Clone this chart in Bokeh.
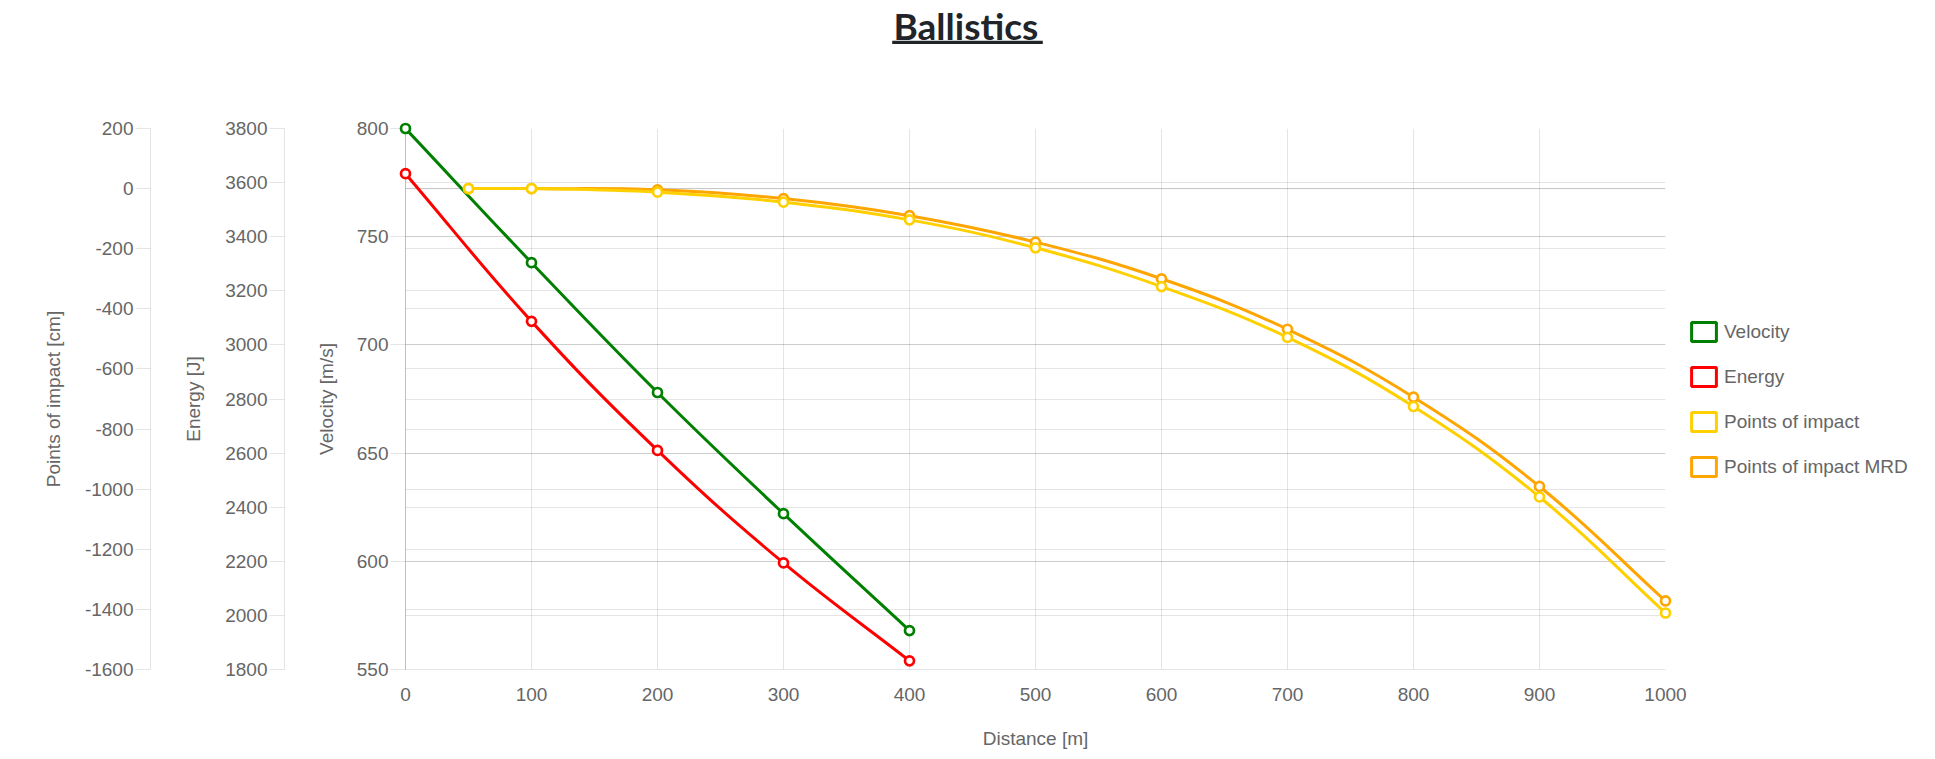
import math
from bokeh.plotting import figure
from bokeh.layouts import column, row
from bokeh.models import (Range1d, LinearAxis, SingleIntervalTicker, FixedTicker, Grid,
                          Legend, LegendItem, ColumnDataSource, Span, BoxAnnotation, Label,
                          PrintfTickFormatter)
from bokeh.embed import file_html
from bokeh.resources import INLINE

# ---------------- data ----------------
distance = [0, 100, 200, 300, 400]
velocity = [800, 738, 678, 622, 568]
energy = [3633, 3087, 2610, 2194, 1832]
impact_distance = [50, 100, 200, 300, 400, 500, 600, 700, 800, 900, 1000]
impact = [0, 0, -12, -45, -104, -197, -326, -495, -725, -1026, -1412]
impact_mrd = [0, 0, -4, -33, -90, -178, -300, -468, -694, -991, -1372]

series_names = ["Velocity", "Energy", "Points of impact", "Points of impact MRD"]
series_colors = ["#008000", "#ff0000", "#ffd000", "#ffa500"]

x_bounds = (0, 1000)
velocity_bounds = (550, 800)
energy_bounds = (1800, 3800)
impact_bounds = (-1600, 200)
x_step, velocity_step, energy_step, impact_step = 100, 50, 200, 200

title_text = "Ballistics"
x_title = "Distance [m]"
velocity_title = "Velocity [m/s]"
energy_title = "Energy [J]"
impact_title = "Points of impact [cm]"

# ---------------- layout ----------------
W = 1930
TH = 110                 # title strip height
PH = 648                 # chart height
BT, BB = 18, 89
FRAME_LEFT, FRAME_RIGHT = 408, 1665
PW = 1688                # chart canvas width (room for the last x label)
LW = W - PW              # legend strip width
FW = FRAME_RIGHT - FRAME_LEFT
FH = PH - BT - BB
FONT = "Liberation Sans"
GREY = "#666666"


def chartjs_curve(xs, ys, xr, yr, tension=0.4):
    kx = FW / (xr[1] - xr[0])
    ky = FH / (yr[1] - yr[0])
    px = [(x - xr[0]) * kx for x in xs]
    py = [(y - yr[0]) * ky for y in ys]
    n = len(px)
    prev_c, next_c = [], []
    for i in range(n):
        a, b = max(i - 1, 0), min(i + 1, n - 1)
        d01 = math.hypot(px[i] - px[a], py[i] - py[a])
        d12 = math.hypot(px[b] - px[i], py[b] - py[i])
        tot = d01 + d12
        s01 = d01 / tot if tot else 0.0
        s12 = d12 / tot if tot else 0.0
        dx, dy = px[b] - px[a], py[b] - py[a]
        prev_c.append((px[i] - tension * s01 * dx, py[i] - tension * s01 * dy))
        next_c.append((px[i] + tension * s12 * dx, py[i] + tension * s12 * dy))

    def back(pt):
        return (min(max(pt[0], 0), FW) / kx + xr[0], min(max(pt[1], 0), FH) / ky + yr[0])

    d = {k: [] for k in ("x0", "y0", "x1", "y1", "cx0", "cy0", "cx1", "cy1")}
    for i in range(n - 1):
        c0, c1 = back(next_c[i]), back(prev_c[i + 1])
        d["x0"].append(xs[i]); d["y0"].append(ys[i])
        d["x1"].append(xs[i + 1]); d["y1"].append(ys[i + 1])
        d["cx0"].append(c0[0]); d["cy0"].append(c0[1])
        d["cx1"].append(c1[0]); d["cy1"].append(c1[1])
    return d


# ---------------- title strip (its frame lines up with the chart frame) ----------------
tf = figure(width=W, height=TH, x_range=Range1d(FRAME_LEFT, FRAME_RIGHT), y_range=Range1d(TH, 0),
            x_axis_type=None, y_axis_type=None, toolbar_location=None, output_backend="svg",
            min_border_left=FRAME_LEFT, min_border_right=W - FRAME_RIGHT,
            min_border_top=0, min_border_bottom=0,
            outline_line_color=None, background_fill_color="white", border_fill_color="white")
tf.add_layout(Label(x=893, y=25, text=title_text, text_font="Lato", text_font_style="bold",
                    text_font_size="37px", text_color="#212529", text_baseline="middle",
                    text_align="left"))
tf.add_layout(BoxAnnotation(left=891.7, right=1042.3, top=40.3, bottom=43.6,
                            fill_color="#212529", fill_alpha=1, line_color=None))

# ---------------- chart ----------------
p = figure(width=PW, height=PH, x_range=Range1d(*x_bounds), y_range=Range1d(*velocity_bounds),
           output_backend="svg", toolbar_location=None,
           min_border_left=0, min_border_right=PW - FRAME_RIGHT, min_border_top=BT,
           min_border_bottom=BB,
           background_fill_color="white", border_fill_color="white", outline_line_color=None)
p.title.text = ""
p.extra_y_ranges = {"energy": Range1d(*energy_bounds), "impact": Range1d(*impact_bounds)}


def style_axis(ax, ticker, label, label_standoff, line_alpha, tick_out=15):
    ax.ticker = ticker
    ax.formatter = PrintfTickFormatter(format="%d")
    ax.axis_label = label
    ax.axis_label_text_font = FONT
    ax.axis_label_text_font_size = "19px"
    ax.axis_label_text_font_style = "normal"
    ax.axis_label_text_color = GREY
    ax.axis_label_standoff = label_standoff
    ax.major_label_text_font = FONT
    ax.major_label_text_font_size = "19px"
    ax.major_label_text_color = GREY
    ax.major_label_standoff = 2
    ax.major_tick_in = 0
    ax.major_tick_out = tick_out
    ax.minor_tick_in = 0
    ax.minor_tick_out = 0
    ax.major_tick_line_color = "black"
    ax.major_tick_line_alpha = 0.1
    ax.axis_line_color = "black"
    ax.axis_line_alpha = line_alpha


def spacer(range_name, standoff):
    return LinearAxis(y_range_name=range_name, ticker=FixedTicker(ticks=[]), axis_label=" ",
                      axis_label_standoff=standoff, axis_label_text_font_size="2px",
                      axis_label_text_alpha=0, axis_line_color=None,
                      major_tick_out=0, major_tick_in=0, minor_tick_out=0, minor_tick_in=0,
                      major_label_standoff=0, major_label_text_font_size="1px")


# x axis
style_axis(p.xaxis[0], SingleIntervalTicker(interval=x_step, num_minor_ticks=0), x_title, 24, 0.1, tick_out=0)
p.xaxis[0].major_label_standoff = 18

# velocity axis (main)
vel_ticker = SingleIntervalTicker(interval=velocity_step, num_minor_ticks=0)
style_axis(p.yaxis[0], vel_ticker, velocity_title, 17, 0.25)

energy_ticker = SingleIntervalTicker(interval=energy_step, num_minor_ticks=0)
impact_ticker = SingleIntervalTicker(interval=impact_step, num_minor_ticks=0)

p.add_layout(spacer("energy", 23), "left")
energy_axis = LinearAxis(y_range_name="energy")
style_axis(energy_axis, energy_ticker, energy_title, 18, 0.1)
p.add_layout(energy_axis, "left")
p.add_layout(spacer("impact", 25), "left")
impact_axis = LinearAxis(y_range_name="impact")
style_axis(impact_axis, impact_ticker, impact_title, 18, 0.1)
p.add_layout(impact_axis, "left")
p.add_layout(spacer("impact", 34), "left")

# grids
p.xgrid.grid_line_color = "black"
p.xgrid.grid_line_alpha = 0.1
p.ygrid.grid_line_color = "black"
p.ygrid.grid_line_alpha = 0.1
p.add_layout(Grid(dimension=1, ticker=energy_ticker, y_range_name="energy",
                  grid_line_color="black", grid_line_alpha=0.1))
p.add_layout(Grid(dimension=1, ticker=impact_ticker, y_range_name="impact",
                  grid_line_color="black", grid_line_alpha=0.1))
p.add_layout(Span(location=0, dimension="width", y_range_name="impact", level="underlay",
                  line_color="black", line_alpha=0.15, line_width=1))

# series (drawn last dataset first, like Chart.js)
series = [
    (distance, velocity, velocity_bounds, "default", series_colors[0]),
    (distance, energy, energy_bounds, "energy", series_colors[1]),
    (impact_distance, impact, impact_bounds, "impact", series_colors[2]),
    (impact_distance, impact_mrd, impact_bounds, "impact", series_colors[3]),
]
for xs, ys, yb, rname, color in reversed(series):
    src = ColumnDataSource(chartjs_curve(xs, ys, x_bounds, yb))
    p.bezier(x0="x0", y0="y0", x1="x1", y1="y1", cx0="cx0", cy0="cy0", cx1="cx1", cy1="cy1",
             source=src, line_color=color, line_width=3, line_cap="round", y_range_name=rname)
    p.scatter(xs, ys, size=9, marker="circle", fill_color="white", line_color=color,
              line_width=2.7, y_range_name=rname, level="overlay")

# ---------------- legend strip ----------------
lf = figure(width=LW, height=PH, x_range=Range1d(0, 1), y_range=Range1d(0, 1),
            x_axis_type=None, y_axis_type=None, toolbar_location=None, output_backend="svg",
            min_border_left=0, min_border_right=0, min_border_top=BT, min_border_bottom=BB,
            outline_line_color=None, background_fill_color="white", border_fill_color="white")
nan = float("nan")
items = []
for name, color in zip(series_names, series_colors):
    r = lf.quad(left=[nan], right=[nan], top=[nan], bottom=[nan], fill_color="white",
                fill_alpha=0, line_color=color, line_width=3)
    items.append(LegendItem(label=name, renderers=[r]))
legend = Legend(items=items, location="center_left", margin=0, padding=0,
                glyph_width=31, glyph_height=24, label_height=24, spacing=21, label_standoff=5,
                label_text_font=FONT, label_text_font_size="19px", label_text_color=GREY,
                border_line_color=None, background_fill_alpha=0)
lf.add_layout(legend)

open("out.html", "w").write(file_html(column(tf, row(p, lf)), INLINE))
